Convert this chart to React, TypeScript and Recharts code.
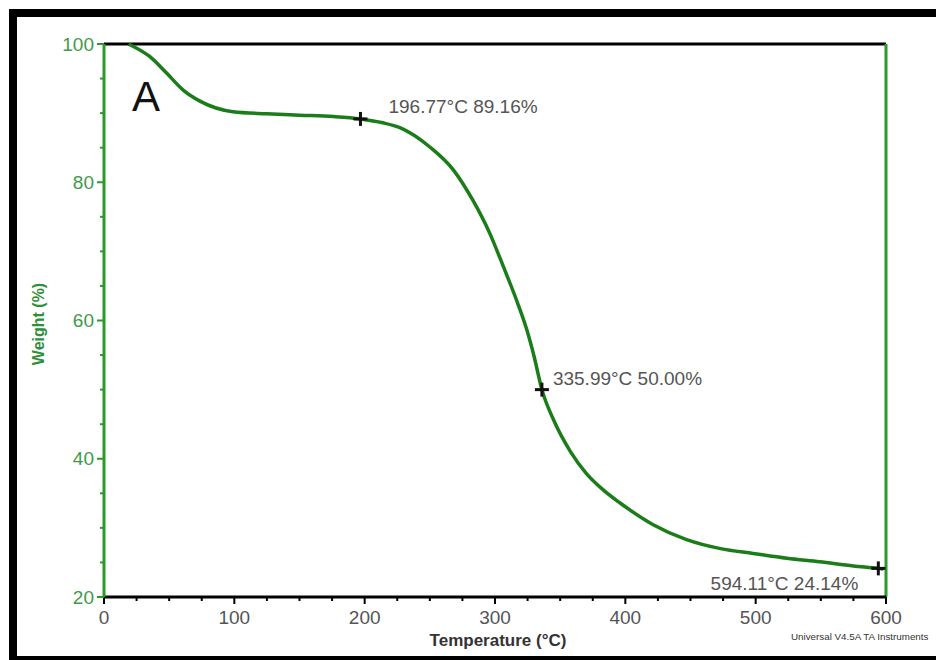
import React from "react";
import { ComposedChart, Line, XAxis, YAxis, ReferenceLine, ReferenceDot } from "recharts";

// Temperature (°C) and weight (%)
const temps = [19, 20, 35, 48, 61, 74, 99, 125, 150, 176, 196.77, 214, 227, 250, 268, 283, 296, 306, 317, 324, 330, 335.99, 345, 358, 370, 383, 396, 421, 447, 473, 498, 524, 549, 575, 594.11, 598];
const weights = [100, 99.9, 98.2, 95.8, 93.3, 91.7, 90.2, 89.9, 89.7, 89.5, 89.16, 88.6, 87.9, 85.1, 81.8, 77.4, 72.6, 68.0, 62.7, 58.9, 54.8, 50.0, 45.6, 41.0, 37.9, 35.5, 33.6, 30.5, 28.3, 27.0, 26.3, 25.6, 25.1, 24.5, 24.14, 24.05];

// Annotated points
const markerTemps = [196.77, 335.99, 594.11];
const markerWeights = [89.16, 50.0, 24.14];
const markerLabels = ["196.77°C 89.16%", "335.99°C 50.00%", "594.11°C 24.14%"];

// Axis ticks (major + minor)
const xTicks = [0, 25, 50, 75, 100, 125, 150, 175, 200, 225, 250, 275, 300, 325, 350, 375, 400, 425, 450, 475, 500, 525, 550, 575, 600];
const yTicks = [20, 25, 30, 35, 40, 45, 50, 55, 60, 65, 70, 75, 80, 85, 90, 95, 100];

const data = temps.map((t, i) => ({ t, w: weights[i] }));

const FONT = '"Liberation Sans", Arial, sans-serif';
const CURVE = "#1a7d1a";
const AXIS_GREEN = "#2a9a2a";
const TICK_GREEN = "#3f9a4a";
const GRAY = "#555555";

function XTick(props: any) {
  const { x, y, payload } = props;
  const v = payload.value;
  const major = v % 100 === 0;
  return (
    <g>
      <line x1={x} x2={x} y1={y} y2={y + (major ? 7 : 4)} stroke="#000" strokeWidth={2} />
      {major && (
        <text x={x} y={y + 27} textAnchor="middle" fontSize={19} fill={GRAY} fontFamily={FONT}>
          {v}
        </text>
      )}
    </g>
  );
}

function YTick(props: any) {
  const { x, y, payload } = props;
  const v = payload.value;
  const major = v % 20 === 0;
  return (
    <g>
      <line x1={x - (major ? 7 : 4)} x2={x} y1={y} y2={y} stroke={AXIS_GREEN} strokeWidth={2} />
      {major && (
        <text x={x - 10} y={y} textAnchor="end" dominantBaseline="central" fontSize={19} fill={TICK_GREEN} fontFamily={FONT}>
          {v}
        </text>
      )}
    </g>
  );
}

function crossShape(label: string, dx: number, dy: number, anchor: "start" | "end") {
  return (p: any) => {
    const { cx, cy } = p;
    return (
      <g>
        <line x1={cx - 7} x2={cx + 7} y1={cy} y2={cy} stroke="#111" strokeWidth={3} />
        <line x1={cx} x2={cx} y1={cy - 7} y2={cy + 7} stroke="#111" strokeWidth={3} />
        <text x={cx + dx} y={cy + dy} textAnchor={anchor} fontSize={19} fill={GRAY} fontFamily={FONT}>
          {label}
        </text>
      </g>
    );
  };
}

export default function App() {
  return (
    <div style={{ position: "absolute", left: 0, top: 0, width: 936, height: 660, overflow: "hidden", background: "#fff" }}>
      <div
        style={{
          position: "absolute",
          left: 9,
          top: 9,
          width: 980,
          height: 655,
          border: "8px solid #000",
          boxSizing: "border-box",
        }}
      />
      <div style={{ position: "absolute", left: 0, top: 0 }}>
        <ComposedChart width={936} height={660} data={data} margin={{ top: 44, right: 50, bottom: 0, left: 0 }}>
          <XAxis
            dataKey="t"
            type="number"
            domain={[0, 600]}
            ticks={xTicks}
            interval={0}
            height={63}
            tickSize={0}
            tickMargin={0}
            tickLine={false}
            axisLine={{ stroke: "#000", strokeWidth: 3 }}
            tick={(p: any) => <XTick {...p} />}
            label={{
              content: (p: any) => {
                const vb = p.viewBox;
                return (
                  <text x={vb.x + vb.width / 2 + 3} y={vb.y + 49} textAnchor="middle" fontSize={17} fontWeight="bold" fill="#333" fontFamily={FONT}>
                    Temperature (°C)
                  </text>
                );
              },
            }}
          />
          <YAxis
            type="number"
            domain={[20, 100]}
            ticks={yTicks}
            interval={0}
            width={104}
            tickSize={0}
            tickMargin={0}
            tickLine={false}
            axisLine={{ stroke: AXIS_GREEN, strokeWidth: 3 }}
            tick={(p: any) => <YTick {...p} />}
            label={{
              content: (p: any) => {
                const vb = p.viewBox;
                const cx = vb.x + 38;
                const cy = vb.y + 280;
                return (
                  <text x={cx} y={cy} transform={`rotate(-90 ${cx} ${cy})`} textAnchor="middle" dominantBaseline="central" fontSize={16} fontWeight="bold" fill="#2f8f3a" fontFamily={FONT}>
                    Weight (%)
                  </text>
                );
              },
            }}
          />
          <ReferenceLine y={100} stroke="#000" strokeWidth={3} />
          <ReferenceLine x={600} stroke={AXIS_GREEN} strokeWidth={3} />
          <Line type="monotone" dataKey="w" stroke={CURVE} strokeWidth={3.5} dot={false} isAnimationActive={false} />
          <ReferenceDot x={markerTemps[0]} y={markerWeights[0]} r={7} shape={crossShape(markerLabels[0], 28, -6, "start")} />
          <ReferenceDot x={markerTemps[1]} y={markerWeights[1]} r={7} shape={crossShape(markerLabels[1], 11, -5, "start")} />
          <ReferenceDot x={markerTemps[2]} y={markerWeights[2]} r={7} shape={crossShape(markerLabels[2], -20, 22, "end")} />
        </ComposedChart>
      </div>
      <svg width={936} height={660} style={{ position: "absolute", left: 0, top: 0, pointerEvents: "none" }}>
        <text x={132} y={111} fontSize={42} fill="#111" fontFamily={FONT}>
          A
        </text>
        <text x={791} y={640} fontSize={9.8} fill="#333" fontFamily={FONT}>
          Universal V4.5A TA Instruments
        </text>
      </svg>
    </div>
  );
}
